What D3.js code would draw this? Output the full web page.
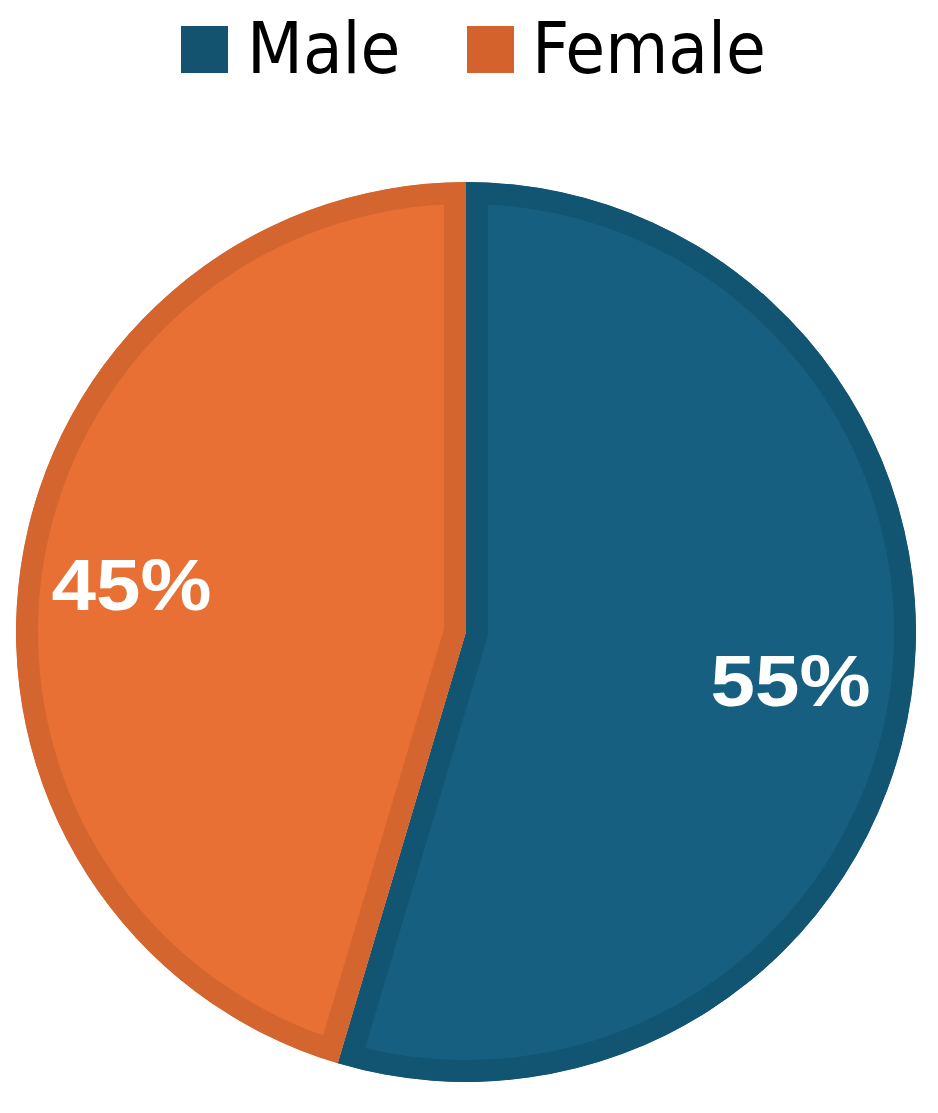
<!DOCTYPE html>
<html><head><meta charset="utf-8">
<script src="https://cdn.jsdelivr.net/npm/d3@7"></script>
<style>body{margin:0;background:#fff}</style>
</head><body>
<script>
const categories = ["Male", "Female"];
const values = [54.6, 45.4];
const fills = ["#175F80", "#E87035"];
const borders = ["#125573", "#D4652E"];
const legendColors = ["#13536F", "#D4622C"];

const W = 938, H = 1113;
const cx = 466, cy = 632, R = 450;
const svg = d3.select("body").append("svg").attr("width", W).attr("height", H);

const pie = d3.pie().sort(null).value(d => d)(values);
const arc = d3.arc().innerRadius(0).outerRadius(R);
const g = svg.append("g").attr("transform", `translate(${cx},${cy})`);
const defs = svg.append("defs");
pie.forEach((p, i) => {
  defs.append("clipPath").attr("id", "clip" + i).append("path").attr("d", arc(p));
});
g.selectAll("path.slice").data(pie).join("path")
  .attr("class", "slice")
  .attr("d", arc)
  .attr("fill", (d, i) => fills[i])
  .attr("stroke", (d, i) => borders[i])
  .attr("stroke-width", 44)
  .attr("stroke-linejoin", "miter")
  .attr("clip-path", (d, i) => `url(#clip${i})`);

const fmt = d3.format(".0f");
const labelArc = d3.arc().innerRadius(R * 0.74).outerRadius(R * 0.74);
g.selectAll("text.lbl").data(pie).join("text")
  .attr("class", "lbl")
  .attr("transform", d => { const c = labelArc.centroid(d); return `translate(${c[0] - 5},${c[1]})`; })
  .attr("text-anchor", "middle")
  .attr("dy", "0.36em")
  .attr("fill", "#fff")
  .attr("font-family", "Liberation Sans, Arial, sans-serif")
  .attr("font-weight", "bold")
  .attr("font-size", 73)
  .attr("textLength", 160)
  .attr("lengthAdjust", "spacingAndGlyphs")
  .text(d => fmt(d.value) + "%");

// Legend
const legend = svg.append("g");
const items = [{x: 181, tx: 247}, {x: 467, tx: 532}];
categories.forEach((c, i) => {
  legend.append("rect").attr("x", items[i].x).attr("y", 26).attr("width", 47).attr("height", 47)
    .attr("fill", legendColors[i]);
  legend.append("text").attr("x", items[i].tx).attr("y", 73)
    .attr("font-family", "DejaVu Sans Condensed, DejaVu Sans, sans-serif")
    .attr("font-size", 72)
    .attr("fill", "#000")
    .text(c);
});
</script>
</body></html>
